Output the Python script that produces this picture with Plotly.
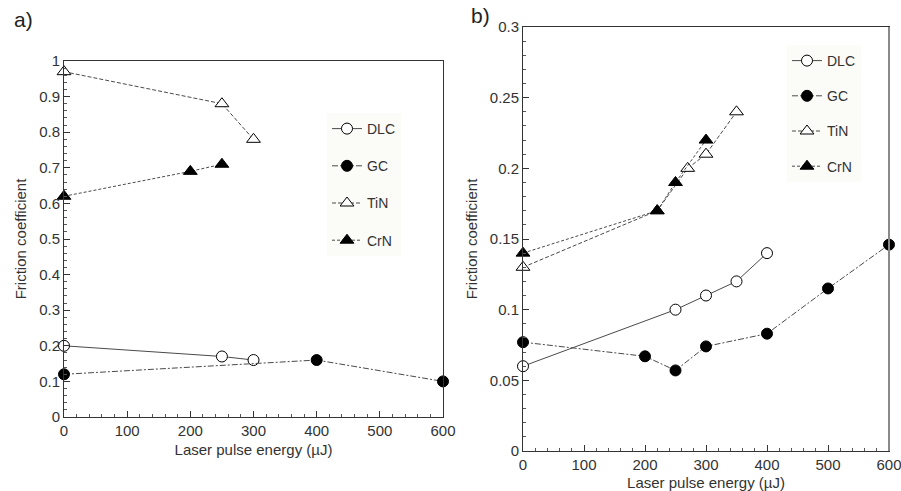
import plotly.graph_objects as go

# ---- data: panel a ----
a_dlc_x = [0, 250, 300]
a_dlc_y = [0.20, 0.17, 0.16]
a_gc_x = [0, 400, 600]
a_gc_y = [0.12, 0.16, 0.10]
a_tin_x = [0, 250, 300]
a_tin_y = [0.97, 0.88, 0.78]
a_crn_x = [0, 200, 250]
a_crn_y = [0.62, 0.69, 0.71]

# ---- data: panel b ----
b_dlc_x = [0, 250, 300, 350, 400]
b_dlc_y = [0.060, 0.100, 0.110, 0.120, 0.140]
b_gc_x = [0, 200, 250, 300, 400, 500, 600]
b_gc_y = [0.077, 0.067, 0.057, 0.074, 0.083, 0.115, 0.146]
b_tin_x = [0, 220, 270, 300, 350]
b_tin_y = [0.130, 0.170, 0.200, 0.210, 0.240]
b_crn_x = [0, 220, 250, 300]
b_crn_y = [0.140, 0.170, 0.190, 0.220]

x_ticks = [0, 100, 200, 300, 400, 500, 600]
a_y_ticks = [0, 0.1, 0.2, 0.3, 0.4, 0.5, 0.6, 0.7, 0.8, 0.9, 1]
a_y_text = ["0", "0.1", "0.2", "0.3", "0.4", "0.5", "0.6", "0.7", "0.8", "0.9", "1"]
b_y_ticks = [0, 0.05, 0.1, 0.15, 0.2, 0.25, 0.3]
b_y_text = ["0", "0.05", "0.1", "0.15", "0.2", "0.25", "0.3"]

series_names = ["DLC", "GC", "TiN", "CrN"]

LINE = "#4a4a4a"
TXT = "#333333"
FONT = "Liberation Sans, Arial, sans-serif"

styles = {
    "DLC": dict(symbol="circle", dash="solid", fill="white", size=11),
    "GC": dict(symbol="circle", dash="6px,2px,2px,2px", fill="black", size=11),
    "TiN": dict(symbol="triangle-up", dash="4px,2px", fill="white", size=12),
    "CrN": dict(symbol="triangle-up", dash="3px,2px", fill="black", size=12),
}

fig = go.Figure()

panel_a = {"DLC": (a_dlc_x, a_dlc_y), "GC": (a_gc_x, a_gc_y),
           "TiN": (a_tin_x, a_tin_y), "CrN": (a_crn_x, a_crn_y)}
panel_b = {"DLC": (b_dlc_x, b_dlc_y), "GC": (b_gc_x, b_gc_y),
           "TiN": (b_tin_x, b_tin_y), "CrN": (b_crn_x, b_crn_y)}

for i, (panel, xa, ya, leg) in enumerate([(panel_a, "x", "y", "legend"),
                                          (panel_b, "x2", "y2", "legend2")]):
    for name in series_names:
        xs, ys = panel[name]
        st = styles[name]
        fig.add_trace(go.Scatter(
            x=xs, y=ys, name=name, mode="lines+markers",
            xaxis=xa, yaxis=ya, legend=leg, legendgroup=name + str(i),
            cliponaxis=False,
            line=dict(color=LINE, width=1, dash=st["dash"]),
            marker=dict(symbol=st["symbol"], size=st["size"], color=st["fill"],
                        line=dict(color="black", width=1)),
        ))

def xaxis_cfg(domain, anchor):
    return dict(domain=domain, anchor=anchor, range=[0, 600], tickvals=x_ticks,
                automargin=False, ticklabeloverflow="allow",
                ticks="inside", ticklen=6, tickwidth=1, tickcolor="#333",
                minor=dict(ticks="inside", dtick=20, ticklen=3, tickcolor="#555"),
                showline=True, linecolor="#333", linewidth=1, mirror=True,
                showgrid=False, zeroline=False,
                tickfont=dict(size=15, color=TXT, family=FONT),
                title=dict(text="Laser pulse energy (µJ)", standoff=6,
                           font=dict(size=15, color=TXT, family=FONT)))

def yaxis_cfg(domain, anchor, rng, tv, tt, minor_dt):
    return dict(domain=domain, anchor=anchor, range=rng, tickvals=tv, ticktext=tt,
                automargin=False, ticklabeloverflow="allow",
                ticks="inside", ticklen=6, tickwidth=1, tickcolor="#333",
                minor=dict(ticks="inside", dtick=minor_dt, ticklen=3, tickcolor="#555"),
                showline=True, linecolor="#333", linewidth=1, mirror=True,
                showgrid=False, zeroline=False,
                tickfont=dict(size=15, color=TXT, family=FONT),
                title=dict(text="Friction coefficient", standoff=8,
                           font=dict(size=15, color=TXT, family=FONT)))

W, H = 901, 491
ax_l, ax_r, ax_t, ax_b = 64, 443, 61, 417
bx_l, bx_r, bx_t, bx_b = 523, 889, 27, 451

fig.update_layout(
    width=W, height=H,
    margin=dict(l=0, r=0, t=0, b=0),
    paper_bgcolor="white", plot_bgcolor="white",
    font=dict(family=FONT, color=TXT),
    xaxis=xaxis_cfg([ax_l / W, ax_r / W], "y"),
    yaxis=yaxis_cfg([1 - ax_b / H, 1 - ax_t / H], "x", [0, 1], a_y_ticks, a_y_text, 0.02),
    xaxis2=xaxis_cfg([bx_l / W, bx_r / W], "y2"),
    yaxis2=yaxis_cfg([1 - bx_b / H, 1 - bx_t / H], "x2", [0, 0.3], b_y_ticks, b_y_text, 0.01),
    legend=dict(x=327 / W, y=1 - 113 / H, xanchor="left", yanchor="top",
                bgcolor="#fbfbf8", borderwidth=0, tracegroupgap=16,
                font=dict(size=14, color=TXT, family=FONT), itemwidth=30),
    legend2=dict(x=787 / W, y=1 - 45 / H, xanchor="left", yanchor="top",
                 bgcolor="#fbfbf8", borderwidth=0, tracegroupgap=14,
                 font=dict(size=14, color=TXT, family=FONT), itemwidth=30),
    showlegend=True,
    shapes=[
        dict(type="line", xref="x2 domain", yref="y2 domain", x0=1, x1=1, y0=0, y1=1,
             line=dict(color="#8a8a8a", width=2)),
    ],
    annotations=[
        dict(text="a)", x=12 / W, y=1 - 20 / H, xref="paper", yref="paper",
             xanchor="left", yanchor="middle", showarrow=False,
             font=dict(size=21, color="#222", family=FONT)),
        dict(text="b)", x=469 / W, y=1 - 16 / H, xref="paper", yref="paper",
             xanchor="left", yanchor="middle", showarrow=False,
             font=dict(size=21, color="#222", family=FONT)),
    ],
)

fig.write_html("out.html")
